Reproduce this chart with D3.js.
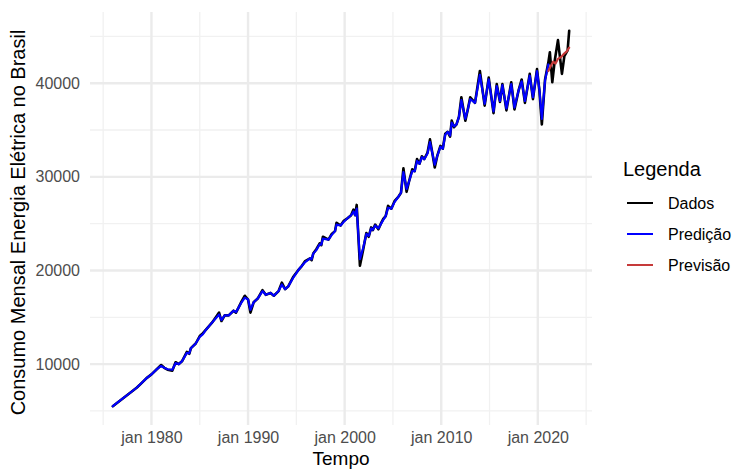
<!DOCTYPE html>
<html>
<head>
<meta charset="utf-8">
<script src="https://cdn.jsdelivr.net/npm/d3@7"></script>
<style>
  body { margin: 0; background: #ffffff; overflow: hidden; }
  svg { display: block; font-family: "Liberation Sans", Arial, Helvetica, sans-serif; }
</style>
</head>
<body>
<svg id="chart" width="732" height="469"></svg>
<script>
// Consumo mensal de energia elétrica (observado)
const dadosMeses = [
  "1976-01","1976-07","1977-01","1977-07","1978-01","1978-07","1979-01","1979-07","1980-01","1980-07",
  "1981-01","1981-05","1981-09","1982-03","1982-07","1982-11","1983-03","1983-09","1983-12","1984-02",
  "1984-08","1985-01","1985-05","1985-09","1986-04","1986-09","1987-01","1987-04","1987-08","1988-01",
  "1988-07","1988-10","1989-01","1989-05","1989-09","1990-01","1990-04","1990-08","1991-01","1991-07",
  "1991-11","1992-05","1992-09","1993-03","1993-07","1993-11","1994-03","1994-09","1995-04","1995-08",
  "1995-12","1996-06","1996-08","1996-10","1997-02","1997-06","1997-08","1997-10","1998-05","1998-09",
  "1999-01","1999-03","1999-08","1999-12","2000-05","2000-09","2000-12","2001-02","2001-04","2001-08",
  "2001-12","2002-04","2002-07","2002-10","2002-12","2003-03","2003-07","2003-10","2004-01","2004-04",
  "2004-07","2004-11","2005-03","2005-08","2005-11","2006-02","2006-06","2006-09","2007-01","2007-04",
  "2007-07","2007-10","2008-01","2008-04","2008-08","2008-11","2009-02","2009-05","2009-08","2009-12",
  "2010-03","2010-06","2010-09","2010-12","2011-02","2011-05","2011-08","2011-11","2012-02","2012-07",
  "2012-10","2013-01","2013-07","2014-01","2014-07","2014-12","2015-06","2015-10","2016-02","2016-05",
  "2016-10","2017-04","2017-08","2018-01","2018-05","2018-09","2019-03","2019-07","2019-12","2020-03",
  "2020-06","2020-10","2021-02","2021-04","2021-07","2021-10","2022-02","2022-07","2022-10","2023-02",
  "2023-04"
];
const dadosValores = [
  5500, 5900, 6300, 6700, 7100, 7500, 8000, 8500, 8900, 9400,
  9900, 9600, 9400, 9300, 10200, 10000, 10300, 11300, 11100, 11700,
  12200, 13000, 13300, 13700, 14400, 15000, 15500, 14600, 15200, 15200,
  15700, 15500, 16000, 16700, 17300, 16900, 15500, 16600, 17000, 17900,
  17400, 17600, 17300, 17800, 18700, 18000, 18300, 19300, 20100, 20500,
  21000, 21300, 21100, 21800, 22300, 22900, 22700, 23600, 23300, 23900,
  24200, 25100, 24800, 25300, 25600, 25900, 26500, 25900, 27000, 20500,
  22200, 24000, 23600, 24600, 24300, 24900, 24400, 25000, 25500, 25800,
  26900, 26600, 27400, 27900, 28300, 30900, 28400, 29500, 30800, 30600,
  31900, 31400, 32200, 31900, 32600, 34000, 32500, 31000, 32200, 33300,
  33000, 34600, 34800, 34300, 36000, 35300, 35600, 36400, 38500, 36000,
  37200, 38500, 37900, 41300, 37600, 40600, 36800, 39900, 38000, 39900,
  37100, 40100, 37200, 39200, 40400, 37900, 41000, 38300, 41500, 39200,
  35600, 40400, 42200, 43300, 40100, 42400, 44600, 41000, 42900, 43500,
  45600
];

// Valores ajustados pelo modelo (mesmos meses, até fev/2021)
const predicaoValores = [
  5500, 5900, 6300, 6700, 7100, 7500, 8000, 8500, 8900, 9400,
  9800, 9600, 9450, 9400, 10100, 10000, 10300, 11200, 11150, 11700,
  12200, 12900, 13200, 13700, 14400, 14900, 15300, 14700, 15200, 15200,
  15700, 15550, 16000, 16600, 17100, 16900, 15800, 16600, 17000, 17800,
  17400, 17600, 17300, 17800, 18500, 18000, 18300, 19200, 20100, 20500,
  20900, 21300, 21200, 21800, 22200, 22800, 22750, 23400, 23300, 23800,
  24200, 24900, 24800, 25200, 25600, 25900, 26300, 25900, 26600, 21200,
  22400, 23900, 23700, 24500, 24350, 24800, 24500, 24950, 25400, 25800,
  26700, 26600, 27300, 27900, 28300, 30500, 28700, 29500, 30600, 30600,
  31700, 31400, 32100, 31900, 32500, 33700, 32500, 31300, 32200, 33200,
  33000, 34500, 34800, 34400, 35800, 35400, 35600, 36400, 38200, 36200,
  37200, 38300, 37900, 40900, 37800, 40400, 37000, 39700, 38100, 39800,
  37300, 39900, 37400, 39200, 40200, 38100, 40800, 38500, 41300, 39300,
  36200, 40300, 42000
];
const predicaoMeses = dadosMeses.slice(0, predicaoValores.length);

// Previsão para os meses seguintes
const previsaoMeses = ["2021-02","2021-05","2021-08","2021-11","2022-02","2022-06","2022-09","2023-01","2023-04"];
const previsaoValores = [41300, 41800, 42300, 42100, 42600, 42800, 43100, 43400, 43800];

// Marcas dos eixos
const anosPrincipais = [1980, 1990, 2000, 2010, 2020];
const anosSecundarios = [1975, 1985, 1995, 2005, 2015, 2025];
const consumoPrincipal = [10000, 20000, 30000, 40000];
const consumoSecundario = [5000, 15000, 25000, 35000, 45000];

const legendaTitulo = "Legenda";
const legendaNomes = ["Dados", "Predição", "Previsão"];
const legendaCores = ["#000000", "#0000ff", "#c63a3a"];
const espessuras = [2.6, 2.2, 2.2];

const parseMes = d3.timeParse("%Y-%m");
const mesesPt = ["jan","fev","mar","abr","mai","jun","jul","ago","set","out","nov","dez"];

const serie = (meses, valores) => meses.map((m, i) => ({ data: parseMes(m), valor: valores[i] }));
const dados = serie(dadosMeses, dadosValores);
const predicao = serie(predicaoMeses, predicaoValores);
const previsao = serie(previsaoMeses, previsaoValores);

const painel = { left: 90, right: 592, top: 12, bottom: 425 };

// Escalas com expansão de 5% em cada lado
const todos = dados.concat(predicao, previsao);
const [t0, t1] = d3.extent(todos, d => d.data);
const dt = (t1 - t0) * 0.05;
const x = d3.scaleTime()
  .domain([new Date(+t0 - dt), new Date(+t1 + dt)])
  .range([painel.left, painel.right]);

const [v0, v1] = d3.extent(todos, d => d.valor);
const dv = (v1 - v0) * 0.05;
const y = d3.scaleLinear()
  .domain([v0 - dv, v1 + dv])
  .range([painel.bottom, painel.top]);

const svg = d3.select("#chart");

// Grade
const grade = svg.append("g");
grade.selectAll("line.xmin").data(anosSecundarios).join("line")
  .attr("x1", a => x(new Date(a, 0, 1))).attr("x2", a => x(new Date(a, 0, 1)))
  .attr("y1", painel.top).attr("y2", painel.bottom)
  .attr("stroke", "#f1f1f1").attr("stroke-width", 1.3);
grade.selectAll("line.ymin").data(consumoSecundario).join("line")
  .attr("x1", painel.left).attr("x2", painel.right)
  .attr("y1", v => y(v)).attr("y2", v => y(v))
  .attr("stroke", "#f1f1f1").attr("stroke-width", 1.3);
grade.selectAll("line.xmaj").data(anosPrincipais).join("line")
  .attr("x1", a => x(new Date(a, 0, 1))).attr("x2", a => x(new Date(a, 0, 1)))
  .attr("y1", painel.top).attr("y2", painel.bottom)
  .attr("stroke", "#ebebeb").attr("stroke-width", 2.4);
grade.selectAll("line.ymaj").data(consumoPrincipal).join("line")
  .attr("x1", painel.left).attr("x2", painel.right)
  .attr("y1", v => y(v)).attr("y2", v => y(v))
  .attr("stroke", "#ebebeb").attr("stroke-width", 2.4);

// Eixos (somente rótulos)
const eixoX = d3.axisBottom(x)
  .tickValues(anosPrincipais.map(a => new Date(a, 0, 1)))
  .tickFormat(d => mesesPt[d.getMonth()] + " " + d.getFullYear())
  .tickSize(0).tickPadding(7);
const gx = svg.append("g").attr("transform", `translate(0,${painel.bottom})`).call(eixoX);
gx.select(".domain").remove();
gx.selectAll("text").attr("fill", "#4d4d4d").attr("font-size", 16)
  .attr("font-family", "Liberation Sans, Arial, sans-serif");

const eixoY = d3.axisLeft(y)
  .tickValues(consumoPrincipal)
  .tickFormat(d3.format("d"))
  .tickSize(0).tickPadding(10);
const gy = svg.append("g").attr("transform", `translate(${painel.left},0)`).call(eixoY);
gy.select(".domain").remove();
gy.selectAll("text").attr("fill", "#4d4d4d").attr("font-size", 16)
  .attr("font-family", "Liberation Sans, Arial, sans-serif");

// Séries: dados por baixo, ajuste e previsão por cima
const linha = d3.line().x(d => x(d.data)).y(d => y(d.valor));
[dados, predicao, previsao].forEach((s, i) => {
  svg.append("path").datum(s)
    .attr("d", linha)
    .attr("fill", "none")
    .attr("stroke", legendaCores[i])
    .attr("stroke-width", espessuras[i])
    .attr("stroke-linejoin", "round")
    .attr("stroke-linecap", "round");
});

// Títulos dos eixos
svg.append("text")
  .attr("x", (painel.left + painel.right) / 2).attr("y", 465)
  .attr("text-anchor", "middle").attr("font-size", 19).attr("fill", "#000")
  .text("Tempo");
svg.append("text")
  .attr("transform", `translate(25,${(painel.top + painel.bottom) / 2 + 4}) rotate(-90)`)
  .attr("text-anchor", "middle").attr("font-size", 20).attr("fill", "#000")
  .text("Consumo Mensal Energia Elétrica no Brasil");

// Legenda
const leg = svg.append("g");
leg.append("text").attr("x", 623).attr("y", 176)
  .attr("font-size", 20).attr("fill", "#000").text(legendaTitulo);
const itens = leg.selectAll("g.item").data(legendaNomes).join("g")
  .attr("transform", (d, i) => `translate(0,${203 + i * 31})`);
itens.append("line")
  .attr("x1", 627).attr("x2", 653).attr("y1", 0).attr("y2", 0)
  .attr("stroke", (d, i) => legendaCores[i]).attr("stroke-width", 2);
itens.append("text")
  .attr("x", 668).attr("y", 0).attr("dy", "0.35em")
  .attr("font-size", 16).attr("fill", "#000").text(d => d);
</script>
</body>
</html>
